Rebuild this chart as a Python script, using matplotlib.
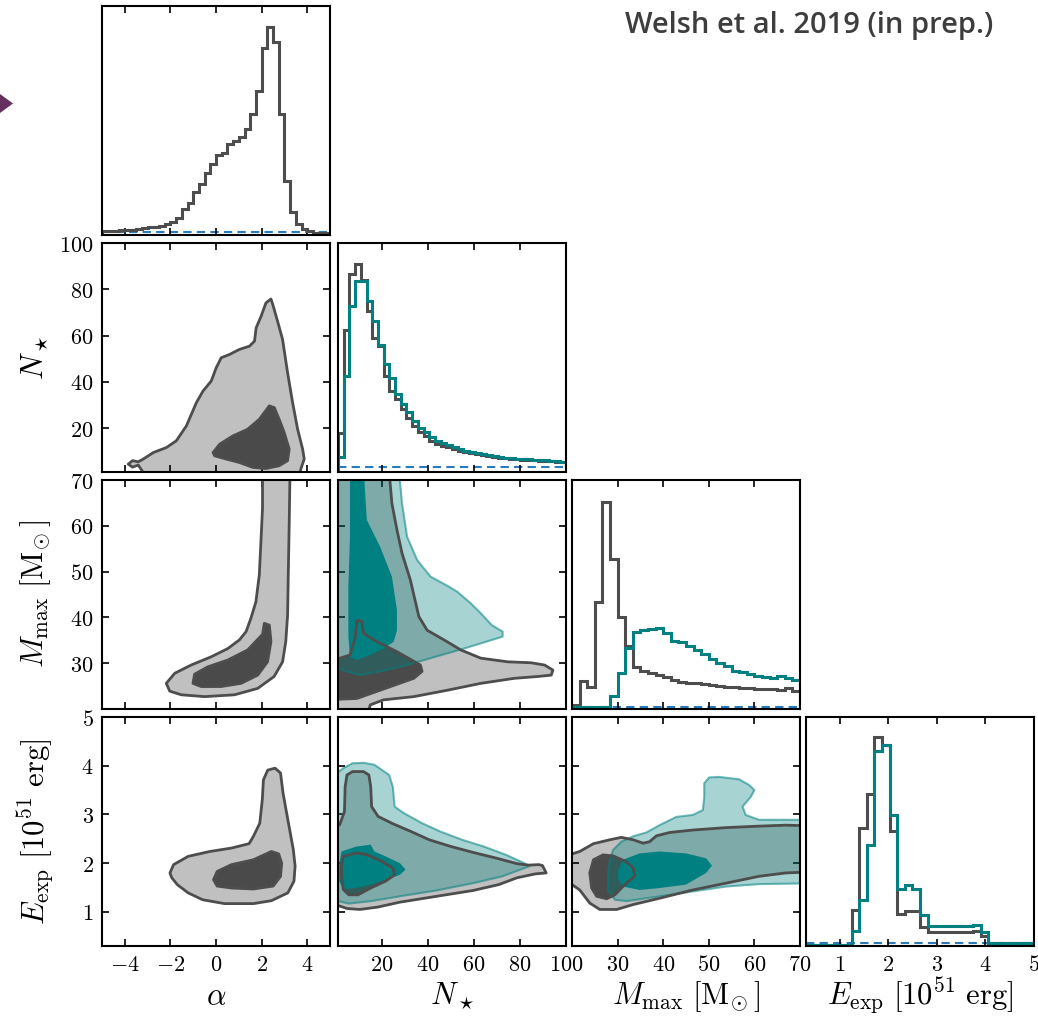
import numpy as np
import matplotlib.pyplot as plt
from matplotlib.patches import Polygon
from matplotlib.ticker import FuncFormatter

plt.rcParams['mathtext.fontset'] = 'cm'
plt.rcParams['font.family'] = ['DejaVu Serif']

# parameter ranges / ticks
alpha_lim = (-5, 5)
nstar_lim = (1, 100)
mmax_lim = (20, 70)
eexp_lim = (0.3, 5)
alpha_ticks = [-4, -2, 0, 2, 4]
nstar_ticks = [20, 40, 60, 80, 100]
mmax_ticks = [30, 40, 50, 60, 70]
eexp_ticks = [1, 2, 3, 4, 5]

labels = [r'$\alpha$', r'$N_\star$', r'$M_{\rm max}\ [{\rm M}_{\!\odot}]$',
          r'$E_{\rm exp}\ [10^{51}\ {\rm erg}]$']

# 1D marginals (arbitrary units)
alpha_hist = [12, 12, 12, 14, 16, 16, 17, 20, 23, 25, 27, 32, 40, 52, 78, 94, 128, 152, 185, 210,
              238, 245, 272, 280, 292, 315, 360, 430, 557, 620, 575, 360, 160, 68, 32, 17, 12, 7, 7, 7]
nstar_hist_grey = [117, 429, 597, 627, 579, 484, 404, 379, 289, 244, 219, 189, 164, 139, 121, 107, 94, 84, 79, 74,
                   69, 64, 60, 56, 53, 50, 47, 45, 43, 41, 39, 38, 37, 36, 35, 34, 33, 32, 31, 29]
nstar_hist_teal = [44, 289, 499, 577, 574, 514, 454, 384, 324, 284, 234, 204, 181, 154, 134, 121, 104, 94, 87, 81,
                   75, 69, 64, 60, 56, 53, 50, 47, 45, 43, 41, 40, 39, 38, 37, 36, 35, 34, 33, 31]
mmax_hist_grey = [12, 85, 67, 320, 622, 449, 277, 190, 127, 114, 107, 102, 95, 87, 82,
                  79, 77, 74, 72, 69, 67, 65, 62, 62, 60, 59, 59, 57, 62, 54]
mmax_hist_teal = [5, 5, 5, 5, 7, 39, 109, 184, 232, 237, 240, 242, 227, 205, 202,
                  190, 177, 164, 150, 139, 130, 114, 111, 105, 100, 97, 92, 100, 92, 87]
eexp_hist_grey = [4, 4, 4, 4, 4, 4, 109, 356, 459, 629, 606, 346, 96, 106, 106,
                  56, 41, 41, 41, 41, 41, 41, 46, 29, 8, 8, 8, 8, 8, 8]
eexp_hist_teal = [3, 3, 3, 3, 3, 3, 44, 138, 303, 589, 606, 394, 171, 184, 173,
                  93, 59, 61, 61, 61, 61, 61, 63, 43, 8, 8, 8, 8, 8, 8]
prior_level = [8, 14, 5, 8]
hist_top = [682, 690, 687, 690]

# 2D credible regions (outlines in data units)
aN_grey_out_x = [-3.0, -3.41, -3.66, -3.85, -3.66, -3.41, -3.19, -2.75, -2.17, -1.74, -1.30, -0.86, -0.57, -0.21,
                 0.01, 0.23, 0.59, 1.03, 1.47, 1.69, 1.76, 1.98, 2.19, 2.41, 2.49, 2.70, 2.92, 3.14, 3.36, 3.58,
                 3.80, 3.87, 3.72, 3.65]
aN_grey_out_y = [-2, 4.0, 3.1, 4.4, 5.9, 5.4, 6.6, 9.4, 11.6, 14.5, 20.9, 31.0, 36.0, 40.3, 46.1, 50.4, 51.8,
                 54.0, 55.4, 57.6, 63.3, 68.4, 74.1, 75.8, 73.4, 66.2, 58.3, 43.9, 31.0, 19.5, 10.9, 6.6, 2.3, -2]
aN_grey_in_x = [-0.13, 0.16, 0.74, 1.39, 1.90, 2.34, 2.56, 2.77, 2.99, 3.21, 3.14, 2.77, 2.19, 1.61, 1.03, 0.45, -0.06]
aN_grey_in_y = [9.4, 13.0, 16.6, 19.5, 23.8, 29.6, 28.8, 23.8, 18.1, 10.9, 5.9, 3.7, 2.5, 3.0, 5.1, 6.6, 8.0]

aM_grey_out_x = [2.04, 2.04, 1.97, 1.90, 1.75, 1.53, 1.32, 1.03, 0.52, -0.21, -1.09, -1.81, -2.18, -2.03, -1.52,
                 -0.50, 0.81, 1.83, 2.55, 2.92, 3.06, 3.14, 3.17, 3.21, 3.25]
aM_grey_out_y = [73, 63.8, 56.5, 49.3, 43.4, 39.8, 36.9, 35.1, 33.2, 31.4, 29.6, 27.8, 25.6, 23.9, 23.1,
                 22.7, 23.1, 24.5, 27.1, 30.3, 34.7, 40.5, 49.3, 60.2, 73]
aM_grey_in_x = [-0.94, -0.36, 0.52, 1.39, 2.04, 2.12, 2.34, 2.41, 2.26, 1.83, 1.10, 0.22, -0.65, -1.01]
aM_grey_in_y = [27.6, 29.2, 30.7, 32.9, 36.3, 38.7, 38.3, 34.7, 30.3, 27.4, 25.6, 24.9, 24.9, 25.6]

aE_grey_out_x = [-2.02, -1.86, -1.22, -0.27, 0.68, 1.45, 1.64, 1.92, 2.03, 2.08, 2.27, 2.59, 2.83, 2.94, 3.07,
                 3.23, 3.39, 3.47, 3.42, 3.15, 2.43, 1.64, 0.37, -0.59, -1.22, -1.70, -1.94]
aE_grey_out_y = [1.80, 1.97, 2.14, 2.24, 2.31, 2.40, 2.55, 2.82, 3.30, 3.71, 3.91, 3.95, 3.85, 3.44, 3.10,
                 2.69, 2.28, 1.94, 1.63, 1.39, 1.23, 1.17, 1.17, 1.25, 1.39, 1.56, 1.70]
aE_grey_in_x = [-0.11, 0.05, 0.68, 1.64, 2.43, 2.75, 2.88, 2.83, 2.51, 1.64, 0.68, 0.05]
aE_grey_in_y = [1.66, 1.83, 1.97, 2.07, 2.24, 2.19, 2.00, 1.73, 1.53, 1.47, 1.49, 1.53]

NM_grey_out_x = [-5, 23.0, 24.4, 26.6, 28.8, 32.4, 36.1, 39.7, 47.0, 54.3, 63.0, 74.7, 84.8, 90.7, 94.3, 93.6,
                 87.8, 77.6, 63.0, 48.5, 33.9, 20.8, 15.0, 13.5, -5]
NM_grey_out_y = [73, 73, 64.9, 59.1, 54.0, 48.2, 40.2, 37.2, 35.1, 32.9, 31.1, 30.3, 30.1, 29.6, 28.5, 27.4,
                 27.1, 26.7, 25.6, 24.1, 22.7, 22.0, 20.9, 18, 18]
NM_grey_in_x = [-5, 6.2, 8.4, 9.2, 11.3, 12.1, 17.9, 26.6, 36.8, 37.5, 33.9, 19.3, 9.2, -5]
NM_grey_in_y = [30.0, 31.8, 35.4, 39.4, 39.1, 36.5, 34.7, 32.5, 29.6, 28.2, 26.7, 24.1, 22.3, 22.0]
NM_teal_out_x = [-5, 27.3, 28.8, 31.0, 35.4, 41.2, 48.5, 52.8, 58.6, 63.0, 67.8, 72.5, 72.5, 55.7, 41.2, 31.0,
                 19.3, 10.6, 4.8, -5]
NM_teal_out_y = [73, 73, 64.9, 57.6, 52.5, 48.9, 46.9, 45.6, 43.1, 40.9, 38.3, 36.9, 35.8, 33.2, 31.1, 29.6,
                 28.2, 27.4, 28.2, 30]
NM_teal_in_x = [6.2, 6.2, 5.5, 5.5, 6.2, 9.2, 15.0, 20.8, 25.2, 26.6, 26.6, 24.4, 19.3, 13.5, 12.1]
NM_teal_in_y = [73, 57.6, 46.7, 35.8, 31.4, 30.7, 31.8, 33.2, 34.7, 37.2, 41.6, 48.9, 55.4, 61.3, 73]

NE_grey_out_x = [-5, 1.75, 3.8, 4.1, 4.9, 7.3, 12.1, 14.4, 15.2, 15.6, 18.4, 24.8, 32.7, 40.6, 50.2, 59.7, 69.2,
                 78.7, 83.5, 88.3, 89.8, 91.4, 86.7, 78.7, 70.8, 59.7, 43.8, 27.9, 18.4, 10.5, 4.9, 1.75, -5]
NE_grey_out_y = [2.62, 2.79, 3.06, 3.57, 3.81, 3.88, 3.88, 3.81, 3.57, 3.16, 2.96, 2.81, 2.65, 2.48, 2.34, 2.22,
                 2.11, 1.99, 1.96, 1.97, 1.95, 1.80, 1.78, 1.70, 1.56, 1.44, 1.32, 1.20, 1.10, 1.05, 1.07, 1.12, 1.15]
NE_grey_in_x = [3.3, 8.9, 13.7, 20.0, 24.8, 25.6, 21.6, 15.2, 9.7, 5.7, 3.3, 2.5, 2.5]
NE_grey_in_y = [2.14, 2.21, 2.17, 2.04, 1.90, 1.76, 1.63, 1.49, 1.35, 1.35, 1.46, 1.73, 1.97]
NE_teal_out_x = [-5, 3.3, 7.3, 12.1, 16.8, 23.2, 24.8, 25.6, 29.5, 37.5, 45.4, 54.9, 64.4, 74.0, 81.9, 84.3,
                 80.3, 72.4, 59.7, 43.8, 27.9, 15.2, 5.7, -5]
NE_teal_out_y = [3.64, 3.95, 4.05, 4.06, 4.02, 3.81, 3.57, 3.16, 3.03, 2.82, 2.65, 2.48, 2.34, 2.17, 2.00, 1.94,
                 1.87, 1.73, 1.59, 1.44, 1.32, 1.22, 1.17, 1.29]
NE_teal_in_x = [2.5, 8.9, 15.2, 16.8, 21.6, 27.9, 30.3, 27.9, 21.6, 15.2, 8.9, 3.3, 1.5, 1.5]
NE_teal_in_y = [2.24, 2.34, 2.38, 2.24, 2.14, 2.00, 1.87, 1.76, 1.66, 1.56, 1.49, 1.47, 1.63, 1.94]

ME_grey_out_x = [15, 20, 21.7, 24.7, 28.3, 30.8, 33.4, 35.6, 37.0, 38.5, 41.4, 46.5, 53.8, 61.0, 66.9, 75,
                 75, 66.9, 61.0, 53.8, 46.5, 39.2, 33.4, 29.8, 26.1, 23.9, 21.7, 20, 15]
ME_grey_out_y = [2.19, 2.19, 2.24, 2.40, 2.48, 2.53, 2.48, 2.41, 2.44, 2.56, 2.63, 2.68, 2.73, 2.76, 2.78, 2.76,
                 1.83, 1.80, 1.73, 1.59, 1.45, 1.28, 1.15, 1.05, 1.05, 1.18, 1.45, 1.56, 1.56]
ME_grey_in_x = [23.9, 24.7, 26.8, 29.0, 31.9, 33.4, 33.8, 31.6, 29.4, 27.6, 25.4, 24.3]
ME_grey_in_y = [1.80, 2.07, 2.17, 2.15, 2.03, 1.90, 1.74, 1.56, 1.35, 1.27, 1.32, 1.49]
ME_teal_out_x = [28.3, 27.9, 27.9, 29.4, 31.9, 39.2, 46.5, 53.8, 61.0, 75, 75, 64.7, 61.0, 58.1, 57.4, 59.2,
                 60.0, 58.9, 56.7, 52.3, 50.1, 49.0, 49.0, 48.7, 46.5, 42.9, 39.2, 36.3, 33.4, 30.8, 29.0]
ME_teal_out_y = [2.07, 1.80, 1.45, 1.25, 1.22, 1.32, 1.42, 1.52, 1.57, 1.59, 2.89, 2.89, 2.89, 2.99, 3.16, 3.36,
                 3.50, 3.60, 3.72, 3.77, 3.76, 3.64, 3.36, 3.09, 2.99, 2.95, 2.78, 2.63, 2.55, 2.44, 2.27]
ME_teal_in_x = [30.1, 31.2, 34.8, 39.2, 45.0, 49.4, 50.7, 49.4, 45.0, 39.2, 34.8, 31.2, 30.1]
ME_teal_in_y = [1.83, 2.07, 2.20, 2.24, 2.20, 2.10, 1.95, 1.80, 1.56, 1.49, 1.45, 1.52, 1.66]

GREY_LINE = '#4d4d4d'
GREY_LIGHT = '#c0c0c0'
GREY_DARK = '#4a4a4a'
TEAL = '#008080'
PRIOR = '#2a7bbd'

lims = [alpha_lim, nstar_lim, mmax_lim, eexp_lim]
ticks = [alpha_ticks, nstar_ticks, mmax_ticks, eexp_ticks]
fmt = FuncFormatter(lambda v, p: '${:g}$'.format(v))

W, H = 1038, 1022
fig = plt.figure(figsize=(W / 100, H / 100), dpi=100)
lefts = [102, 338, 572, 806]
tops = [6, 243, 480, 717]
aw, ah = 228, 229


def make_ax(i, j):
    ax = fig.add_axes([lefts[j] / W, 1 - (tops[i] + ah) / H, aw / W, ah / H])
    for s in ax.spines.values():
        s.set_linewidth(1.5)
        s.set_zorder(10)
    ax.tick_params(direction='in', length=5, width=1.2, top=True, right=True,
                   labelsize=16, pad=6)
    ax.set_xlim(lims[j])
    ax.set_xticks(ticks[j])
    ax.xaxis.set_major_formatter(fmt)
    if i != 3:
        ax.tick_params(labelbottom=False)
    else:
        ax.set_xlabel(labels[j], fontsize=22, va='center')
        ax.xaxis.set_label_coords(0.5, -0.22)
    if i == j:
        ax.tick_params(left=False, right=False, labelleft=False)
        ax.set_yticks([])
    else:
        ax.set_ylim(lims[i])
        ax.set_yticks(ticks[i])
        ax.yaxis.set_major_formatter(fmt)
        if j != 0:
            ax.tick_params(labelleft=False)
        else:
            ax.set_ylabel(labels[i], fontsize=22, va='center')
            ax.yaxis.set_label_coords(-0.29, 0.5)
    return ax


def region(ax, x, y, **kw):
    ax.add_patch(Polygon(np.column_stack([x, y]), closed=True, joinstyle='round', **kw))


def pair_panel(ax, go, gi, to=None, ti=None):
    region(ax, *go, fc=GREY_LIGHT, ec='none', zorder=1)
    region(ax, *gi, fc=GREY_DARK, ec='none', zorder=2)
    if to is not None:
        region(ax, *to, fc=(0, 0.5, 0.5, 0.34), ec='none', zorder=3)
        region(ax, *ti, fc=TEAL, ec='none', zorder=4)
        region(ax, *to, fill=False, ec=(0, 0.5, 0.5, 0.55), lw=1.5, zorder=5)
    region(ax, *go, fill=False, ec=GREY_LINE, lw=2, zorder=6)
    region(ax, *gi, fill=False, ec=GREY_LINE, lw=2, zorder=6)


# diagonal histograms
hists = [(alpha_hist, None), (nstar_hist_grey, nstar_hist_teal),
         (mmax_hist_grey, mmax_hist_teal), (eexp_hist_grey, eexp_hist_teal)]
for k, (g, t) in enumerate(hists):
    ax = make_ax(k, k)
    edges = np.linspace(lims[k][0], lims[k][1], len(g) + 1)
    ax.axhline(prior_level[k], color=PRIOR, ls='--', dashes=(4, 2.5), lw=1.5, zorder=1)
    ax.stairs(g, edges, color=GREY_LINE, lw=2.2, zorder=2)
    if t is not None:
        ax.stairs(t, edges, color=TEAL, lw=2.2, zorder=3)
    ax.set_ylim(0, hist_top[k])

# off-diagonal panels
pair_panel(make_ax(1, 0), (aN_grey_out_x, aN_grey_out_y), (aN_grey_in_x, aN_grey_in_y))
pair_panel(make_ax(2, 0), (aM_grey_out_x, aM_grey_out_y), (aM_grey_in_x, aM_grey_in_y))
pair_panel(make_ax(3, 0), (aE_grey_out_x, aE_grey_out_y), (aE_grey_in_x, aE_grey_in_y))
pair_panel(make_ax(2, 1), (NM_grey_out_x, NM_grey_out_y), (NM_grey_in_x, NM_grey_in_y),
           (NM_teal_out_x, NM_teal_out_y), (NM_teal_in_x, NM_teal_in_y))
pair_panel(make_ax(3, 1), (NE_grey_out_x, NE_grey_out_y), (NE_grey_in_x, NE_grey_in_y),
           (NE_teal_out_x, NE_teal_out_y), (NE_teal_in_x, NE_teal_in_y))
pair_panel(make_ax(3, 2), (ME_grey_out_x, ME_grey_out_y), (ME_grey_in_x, ME_grey_in_y),
           (ME_teal_out_x, ME_teal_out_y), (ME_teal_in_x, ME_teal_in_y))

# annotation + slide arrow
fig.text(993 / W, 1 - 26 / H, 'Welsh et al. 2019 (in prep.)', ha='right', va='center',
         fontsize=21, color='#3d3d3d', family=['Open Sans', 'DejaVu Sans'], fontweight='semibold')
fig.patches.append(Polygon([(0, 1 - 94 / H), (13 / W, 1 - 103.5 / H), (0, 1 - 113 / H)],
                           closed=True, transform=fig.transFigure, fc='#64305f', ec='none'))

fig.savefig('out.png', dpi=100)
